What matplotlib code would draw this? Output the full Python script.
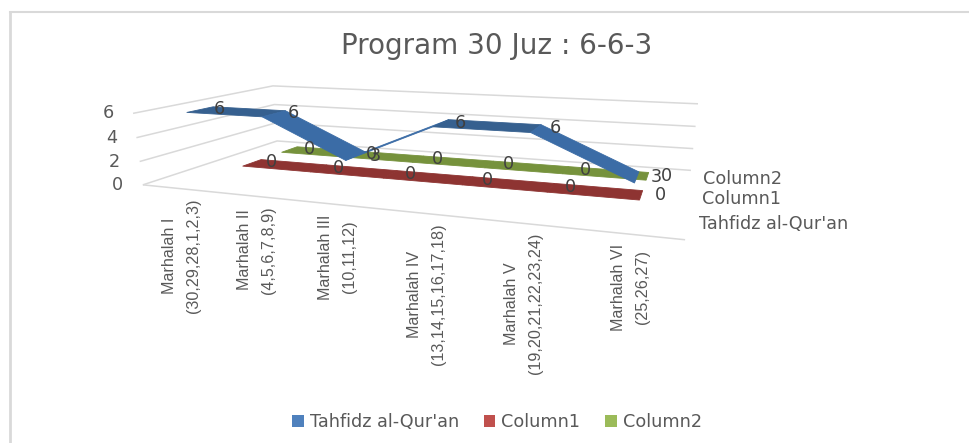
import numpy as np
import matplotlib
matplotlib.use('Agg')
import matplotlib.pyplot as plt
from matplotlib.lines import Line2D
from matplotlib.patches import Patch
from mpl_toolkits.mplot3d import proj3d
from mpl_toolkits.mplot3d.art3d import Line3DCollection, Poly3DCollection

# Chart data
categories = ['Marhalah I\n(30,29,28,1,2,3)', 'Marhalah II\n(4,5,6,7,8,9)', 'Marhalah III\n(10,11,12)',
              'Marhalah IV\n(13,14,15,16,17,18)', 'Marhalah V\n(19,20,21,22,23,24)', 'Marhalah VI\n(25,26,27)']
series_names = ["Tahfidz al-Qur'an", 'Column1', 'Column2']
tahfidz = [6, 6, 3, 6, 6, 3]
column1 = [0, 0, 0, 0, 0, 0]
column2 = [0, 0, 0, 0, 0, 0]
value_ticks = [0, 2, 4, 6]

GREY = '#595959'
GRID = '#d9d9d9'
W, H = 969, 443

# Camera: solve a pinhole projection from the corners of the plot box
box_3d = [(0, 0, 0), (6, 0, 0), (0, 3, 0), (6, 3, 0), (0, 0, 6), (0, 3, 6), (6, 3, 6)]
box_px = [(143, 185), (685, 240), (277, 141), (691, 170), (133, 113), (273, 86), (698, 104)]
A, b = [], []
for (x, y, z), (u, v) in zip(box_3d, box_px):
    A.append([x, y, z, 1, 0, 0, 0, 0, -u * x, -u * y, -u * z])
    A.append([0, 0, 0, 0, x, y, z, 1, -v * x, -v * y, -v * z])
    b += [u, v]
p = np.linalg.lstsq(np.array(A, float), np.array(b, float), rcond=None)[0]
M = np.array([p[:4], p[4:8], [0, 1, 0, 0], [p[8], p[9], p[10], 1]])

fig = plt.figure(figsize=(W / 100, H / 100), dpi=100, facecolor='white')
ax = fig.add_axes([0, 0, 1, 1], projection='3d', computed_zorder=False)
ax.get_proj = lambda: M
ax.apply_aspect = lambda position=None: None
ax.viewLim.intervalx = (0, W)
ax.viewLim.intervaly = (H, 0)
ax.set_xticks([])
ax.set_yticks([])
ax.set_zticks([])
ax.set_axis_off()
ax.patch.set_visible(False)


def label(x, y, z, s, dx=0, dy=0, **kw):
    # text pinned to a 3D position, nudged in pixels (y runs downward here)
    px, py, _ = proj3d.proj_transform(x, y, z, M)
    ax.text2D(px + dx, py + dy, s, transform=ax.transData, zorder=5, **kw)


# Walls and floor
grid = [[(0, 0, v), (0, 3, v), (6, 3, v)] for v in value_ticks] + [[(0, 0, 0), (6, 0, 0)]]
ax.add_collection3d(Line3DCollection(grid, colors=GRID, linewidths=1.1, zorder=1), autolim=False)


def ribbon(values, depth, half, colors):
    for i in range(len(values) - 1):
        x0, x1 = i + 0.5, i + 1.5
        quad = [(x0, depth - half, values[i]), (x0, depth + half, values[i]),
                (x1, depth + half, values[i + 1]), (x1, depth - half, values[i + 1])]
        c = colors[0] if values[i] == values[i + 1] else colors[1]
        ax.add_collection3d(Poly3DCollection([quad], facecolors=c, edgecolors=c, linewidths=0.6, zorder=3))


series_depth = [0.55, 1.52, 2.5]
ribbon(column2, series_depth[2], 0.22, ('#76923c', '#76923c'))
ribbon(column1, series_depth[1], 0.22, ('#8e3432', '#8e3432'))
ribbon(tahfidz, series_depth[0], 0.25, ('#36608f', '#3b6ca6'))

# Value labels sit a little to the right of their points
for values, depth in zip([tahfidz, column1, column2], series_depth):
    for i, val in enumerate(values):
        label(i + 0.5, depth, val, str(val), dx=20, color='#404040', fontsize=12.7, ha='center', va='center')

# Axis labels
for v in value_ticks:
    label(0, 0, v, str(v), dx=-25, color=GREY, fontsize=12.7, ha='center', va='center')
for name, depth in zip(series_names, [0.5, 1.5, 2.5]):
    label(6, depth, 0, name, dx=13, color=GREY, fontsize=12.7, ha='left', va='center')
for i, cat in enumerate(categories):
    label(i + 0.5, 0, 0, cat, dx=3, dy=10, color=GREY, rotation=90, ha='center', va='top',
          multialignment='center', fontsize=11.6, family='Liberation Sans', linespacing=1.75)

fig.text(497 / W, 1 - 46 / H, 'Program 30 Juz : 6-6-3', color=GREY, fontsize=20, ha='center', va='center')

handles = [Patch(facecolor=c, label=n) for c, n in zip(['#4f81bd', '#c0504d', '#9bbb59'], series_names)]
fig.legend(handles=handles, loc='center', bbox_to_anchor=(497 / W, 1 - 422 / H), ncol=3, frameon=False,
           fontsize=12.7, labelcolor=GREY, handlelength=0.65, handleheight=0.65, handletextpad=0.34,
           columnspacing=1.42)

# Chart frame, only the top and left edges show
fig.add_artist(Line2D([9.5 / W, 9.5 / W], [0, 1 - 12 / H], color=GRID, lw=2))
fig.add_artist(Line2D([9.5 / W, 1], [1 - 12 / H, 1 - 12 / H], color=GRID, lw=1.5))

fig.savefig('out.png', dpi=100)
